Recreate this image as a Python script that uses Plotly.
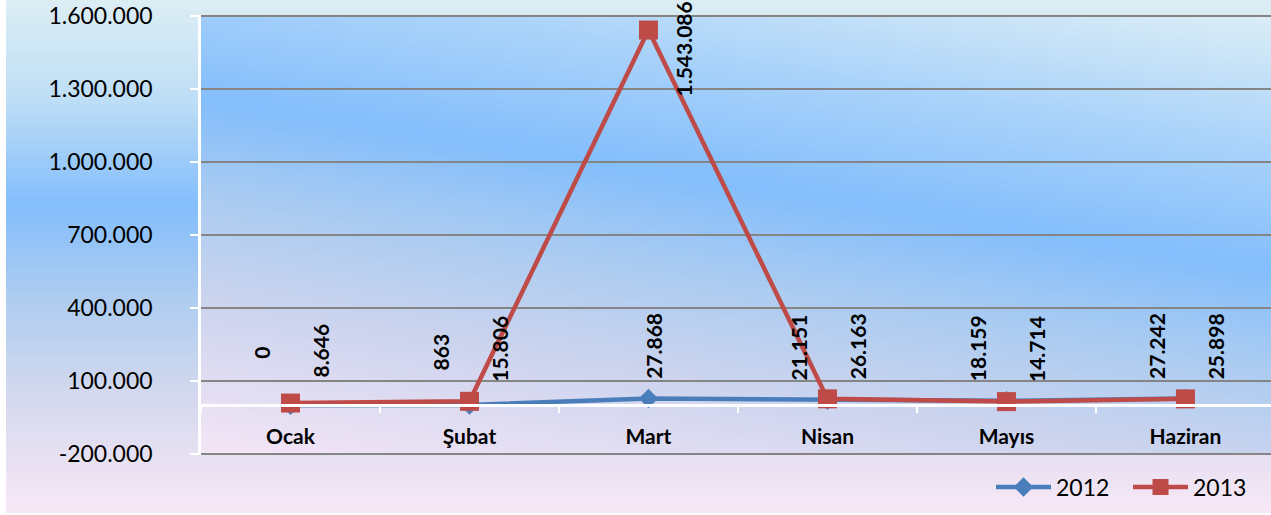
import base64, struct, zlib
import plotly.graph_objects as go

# ---------------- data ----------------
months = ["Ocak", "Şubat", "Mart", "Nisan", "Mayıs", "Haziran"]
series_names = ["2012", "2013"]
values_2012 = [0, 863, 27868, 21151, 18159, 27242]
values_2013 = [8646, 15806, 1543086, 26163, 14714, 25898]
y_tick_values = [-200000, 100000, 400000, 700000, 1000000, 1300000, 1600000]

# ---------------- geometry (pixels) ----------------
W, H = 1271, 515
PL, PR, PT, PB = 201, 1271, 15, 455          # plot area in pixels
YMIN, YMAX = -205000, 1605000                # a hair beyond the outer gridlines

def px2paper_x(px):
    return (px - PL) / (PR - PL)

def px2paper_y(py):
    return (PB - py) / (PB - PT)

# ---------------- gradient images ----------------
def lerp_stops(stops, t):
    if t <= stops[0][0]:
        return stops[0][1]
    for (t0, c0), (t1, c1) in zip(stops, stops[1:]):
        if t <= t1:
            f = (t - t0) / (t1 - t0)
            return tuple(int(round(a + (b - a) * f)) for a, b in zip(c0, c1))
    return stops[-1][1]

def png_uri(w, h, fn):
    raw = bytearray()
    for j in range(h):
        raw.append(0)
        for i in range(w):
            raw.extend(fn(i, j))
    def chunk(t, d):
        return struct.pack(">I", len(d)) + t + d + struct.pack(">I", zlib.crc32(t + d) & 0xffffffff)
    png = (b"\x89PNG\r\n\x1a\n"
           + chunk(b"IHDR", struct.pack(">IIBBBBB", w, h, 8, 2, 0, 0, 0))
           + chunk(b"IDAT", zlib.compress(bytes(raw), 9))
           + chunk(b"IEND", b""))
    return "data:image/png;base64," + base64.b64encode(png).decode()

# outer chart area: vertical gradient (pixel rows 0..513)
outer_stops = [
    (0, (221, 238, 244)),
    (100, (190, 222, 246)),
    (205, (132, 190, 252)),
    (300, (175, 205, 240)),
    (400, (214, 217, 238)),
    (513, (248, 232, 246)),
]
OW, OH = 60, 129
outer_img = png_uri(OW, OH, lambda i, j: lerp_stops(outer_stops, (j + 0.5) / OH * 513))

# plot area: tilted gradient, blue band running from upper-left to lower-right
plot_stops = [
    (-260, (222, 239, 246)),
    (-120, (170, 211, 250)),
    (0, (132, 190, 252)),
    (100, (172, 204, 241)),
    (200, (204, 212, 238)),
    (340, (241, 228, 245)),
]
PWI, PHI = 214, 88
def plot_pix(i, j):
    x = PL + (i + 0.5) / PWI * (PR - PL)
    y = PT + (j + 0.5) / PHI * (PB - PT)
    peak = 100 + (x - PL) / (PR - PL) * 170
    return lerp_stops(plot_stops, y - peak)
plot_img = png_uri(PWI, PHI, plot_pix)

# ---------------- figure ----------------
blue = "#4A7EBB"
red = "#BE4B48"

fig = go.Figure()
fig.add_trace(go.Scatter(
    x=months, y=values_2012, name=series_names[0], mode="lines+markers",
    line=dict(color=blue, width=4.5),
    marker=dict(symbol="diamond", size=15, color=blue),
    cliponaxis=False,
))
fig.add_trace(go.Scatter(
    x=months, y=values_2013, name=series_names[1], mode="lines+markers",
    line=dict(color=red, width=4.5),
    marker=dict(symbol="square", size=19, color=red),
    cliponaxis=False,
))

def fmt(v):
    return f"{v:,}".replace(",", ".")

def near_top(v):
    return v > 0.75 * YMAX

annotations = []
label_font = dict(family="Lato", size=21, color="black", weight="bold")
for m, v12, v13 in zip(months, values_2012, values_2013):
    # 2012 label: left of the point, centred when the 2013 label has moved up top
    annotations.append(dict(
        x=m, y=v12, xref="x", yref="y", text=fmt(v12), showarrow=False,
        textangle=-90, font=label_font, xanchor="center", yanchor="middle",
        xshift=(5 if near_top(v13) else -29), yshift=53,
    ))
    # 2013 label: right of the point, dropped beside it when too close to the top
    annotations.append(dict(
        x=m, y=v13, xref="x", yref="y", text=fmt(v13), showarrow=False,
        textangle=-90, font=label_font, xanchor="center", yanchor="middle",
        xshift=(35 if near_top(v13) else 30), yshift=(-19 if near_top(v13) else 53),
    ))

fig.update_layout(
    width=W, height=H,
    margin=dict(l=PL, r=W - PR, t=PT, b=H - PB, pad=0),
    paper_bgcolor="white",
    plot_bgcolor="rgba(0,0,0,0)",
    separators=",.",
    font=dict(family="Lato", color="black"),
    showlegend=True,
    legend=dict(
        orientation="h", x=px2paper_x(1265), xanchor="right", y=px2paper_y(487), yanchor="middle",
        font=dict(family="Lato", size=23, color="black"),
        bgcolor="rgba(0,0,0,0)", itemwidth=55, entrywidth=67, traceorder="normal",
    ),
    images=[
        dict(source=outer_img, xref="paper", yref="paper",
             x=px2paper_x(6), y=px2paper_y(0), sizex=px2paper_x(W) - px2paper_x(6),
             sizey=px2paper_y(0) - px2paper_y(513), xanchor="left", yanchor="top",
             sizing="stretch", layer="below"),
        dict(source=plot_img, xref="paper", yref="paper",
             x=0, y=1, sizex=1, sizey=1, xanchor="left", yanchor="top",
             sizing="stretch", layer="below"),
    ],
    annotations=annotations,
)

fig.update_xaxes(
    type="category", categoryorder="array", categoryarray=months,
    range=[-0.5, 5.478],
    anchor="free", position=(0 - YMIN) / (YMAX - YMIN),
    showline=True, linecolor="white", linewidth=2.5,
    ticks="outside", tickson="boundaries", ticklen=6, tickcolor="white", tickwidth=2,
    showgrid=False, zeroline=False,
    tickfont=dict(family="Lato", size=21, color="black", weight="bold"),
    ticklabelstandoff=12,
)
fig.update_yaxes(
    range=[YMIN, YMAX], tickmode="array", tickvals=y_tick_values,
    ticktext=[fmt(v) for v in y_tick_values],
    showline=True, linecolor="white", linewidth=2.5,
    ticks="outside", ticklen=8, tickcolor="white", tickwidth=2,
    showgrid=True, gridcolor="#858585", gridwidth=1.6,
    zeroline=False,
    tickfont=dict(family="Lato", size=23, color="black"),
    ticklabelstandoff=33,
)

fig.write_html(
    "out.html",
    config={"displayModeBar": False},
    post_script="document.body.style.margin='0px';document.body.style.overflow='hidden';",
)
